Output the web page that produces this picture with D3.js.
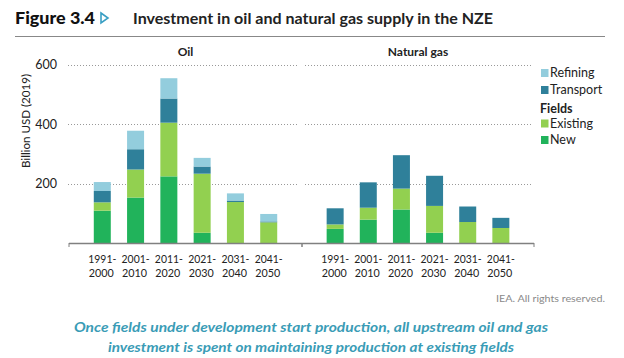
<!DOCTYPE html>
<html><head><meta charset="utf-8">
<script src="https://cdn.jsdelivr.net/npm/d3@7"></script>
<style>
html,body{margin:0;padding:0;background:#fff;}
svg{display:block;font-family:Lato,"Open Sans",sans-serif;}
</style></head>
<body>
<svg id="chart" width="624" height="358"></svg>
<script>
const categories = ["1991-2000","2001-2010","2011-2020","2021-2030","2031-2040","2041-2050"];
const yTicks = [200,400,600];
const seriesNames = ["New","Existing","Transport","Refining"];
const oilNew       = [110,154,225,36,0,0];
const oilExisting  = [28,94,180,198,139,71];
const oilTransport = [38,68,81,24,5,3];
const oilRefining  = [30,62,68,29,24,25];
const gasNew       = [49,80,114,36,0,0];
const gasExisting  = [15,40,70,90,72,52];
const gasTransport = [54,85,112,101,52,34];
const gasRefining  = [0,0,0,0,0,0];
const panelTitles = ["Oil","Natural gas"];

const colors = {New:"#21b35b",Existing:"#92d050",Transport:"#2f809a",Refining:"#93cddd"};
const svg = d3.select("#chart");

// Title
svg.append("text").attr("x",15).attr("y",24).attr("font-size",16).attr("font-weight",900)
  .attr("fill","#111").attr("textLength",80).attr("lengthAdjust","spacingAndGlyphs").text("Figure 3.4");
svg.append("path").attr("d","M101,13 L108,18 L101,23 Z").attr("fill","none").attr("stroke","#3a9fc4").attr("stroke-width",1.6);
svg.append("text").attr("x",133).attr("y",24).attr("font-size",15).attr("font-weight",700)
  .attr("fill","#222").attr("textLength",360).attr("lengthAdjust","spacingAndGlyphs")
  .text("Investment in oil and natural gas supply in the NZE");
svg.append("line").attr("x1",15).attr("x2",605).attr("y1",36.5).attr("y2",36.5).attr("stroke","#888").attr("stroke-width",1);

const y = d3.scaleLinear().domain([0,600]).range([243.5,64.5]);

const panels = [
  {title:panelTitles[0], range:[69,302], data:{New:oilNew,Existing:oilExisting,Transport:oilTransport,Refining:oilRefining}},
  {title:panelTitles[1], range:[302,534], data:{New:gasNew,Existing:gasExisting,Transport:gasTransport,Refining:gasRefining}}
];

// y axis ticks
const yAxis = d3.axisLeft(y).tickValues(yTicks).tickSize(0).tickPadding(0);
const ya = svg.append("g").attr("transform","translate(57,0)").call(yAxis);
ya.select(".domain").remove();
ya.selectAll("text").attr("font-size",12.5).attr("fill","#222").attr("font-family","Lato,sans-serif");

svg.append("text").attr("transform","translate(30,121) rotate(-90)").attr("text-anchor","middle")
  .attr("font-size",11.5).attr("fill","#222").attr("textLength",94).attr("lengthAdjust","spacingAndGlyphs").text("Billion USD (2019)");

panels.forEach((p,pi)=>{
  const x = d3.scalePoint().domain(categories).range(p.range).padding(1);
  const g = svg.append("g");
  // gridlines
  const gx0 = pi===0 ? 68 : 305, gx1 = pi===0 ? 298 : 533;
  g.selectAll("line.grid").data(yTicks).join("line")
    .attr("x1",gx0).attr("x2",gx1).attr("y1",d=>Math.round(y(d))+0.5).attr("y2",d=>Math.round(y(d))+0.5)
    .attr("stroke","#999").attr("stroke-width",1).attr("stroke-dasharray","1,2");
  // stacks
  const rows = categories.map((c,i)=>{const r={cat:c}; seriesNames.forEach(s=>r[s]=p.data[s][i]); return r;});
  const stack = d3.stack().keys(seriesNames)(rows);
  const bw = 17;
  g.selectAll("g.s").data(stack).join("g").attr("fill",d=>colors[d.key])
    .selectAll("rect").data(d=>d).join("rect")
    .attr("x",d=>x(d.data.cat)-bw/2).attr("width",bw)
    .attr("y",d=>y(d[1])).attr("height",d=>Math.max(0,y(d[0])-y(d[1])));
  // x axis
  const xa = d3.axisBottom(x).tickSize(0).tickFormat("");
  const ax = g.append("g").attr("transform","translate(0,243.5)").call(xa);
  ax.select(".domain").remove();
  g.append("line").attr("x1",p.range[0]).attr("x2",p.range[1]).attr("y1",243.5).attr("y2",243.5)
    .attr("stroke","#808080").attr("stroke-width",1.6);
  p.range.forEach(xx=>g.append("line").attr("x1",xx).attr("x2",xx).attr("y1",243).attr("y2",247)
    .attr("stroke","#808080").attr("stroke-width",1));
  categories.forEach(c=>{
    const parts = c.split("-");
    const t = g.append("text").attr("text-anchor","middle").attr("font-size",12).attr("fill","#222");
    t.append("tspan").attr("x",x(c)).attr("y",262.5).attr("textLength",28).attr("lengthAdjust","spacingAndGlyphs").text(parts[0]+"-");
    t.append("tspan").attr("x",x(c)-1).attr("y",276.5).attr("textLength",25).attr("lengthAdjust","spacingAndGlyphs").text(parts[1]);
  });
  g.append("text").attr("x",(p.range[0]+p.range[1])/2).attr("y",56).attr("text-anchor","middle")
    .attr("font-size",12).attr("font-weight",700).attr("fill","#222").text(p.title);
});

// Legend
const legendItems = [
  {type:"item",key:"Refining",y:73},
  {type:"item",key:"Transport",y:90},
  {type:"head",key:"Fields",y:108.5},
  {type:"item",key:"Existing",y:123.5},
  {type:"item",key:"New",y:140}
];
const lg = svg.append("g");
legendItems.forEach(it=>{
  if(it.type==="item"){
    lg.append("rect").attr("x",541).attr("y",it.y-4).attr("width",7.5).attr("height",8).attr("fill",colors[it.key]);
    lg.append("text").attr("x",550).attr("y",it.y+4).attr("font-size",12.5).attr("fill","#222").text(it.key);
  } else {
    lg.append("text").attr("x",540).attr("y",it.y+4).attr("font-size",12.5).attr("font-weight",700).attr("fill","#222").text(it.key);
  }
});

svg.append("text").attr("x",605).attr("y",301.5).attr("text-anchor","end").attr("font-size",10)
  .attr("fill","#8a8a8a").attr("textLength",109).attr("lengthAdjust","spacingAndGlyphs").text("IEA. All rights reserved.");

const cap = svg.append("text").attr("text-anchor","middle").attr("font-size",13.5).attr("font-weight",700)
  .attr("font-style","italic").attr("fill","#3a9cb6");
cap.append("tspan").attr("x",311).attr("y",331.5).attr("textLength",474).attr("lengthAdjust","spacingAndGlyphs")
  .text("Once fields under development start production, all upstream oil and gas");
cap.append("tspan").attr("x",311).attr("y",351.5).attr("textLength",406).attr("lengthAdjust","spacingAndGlyphs")
  .text("investment is spent on maintaining production at existing fields");
</script>
</body></html>
